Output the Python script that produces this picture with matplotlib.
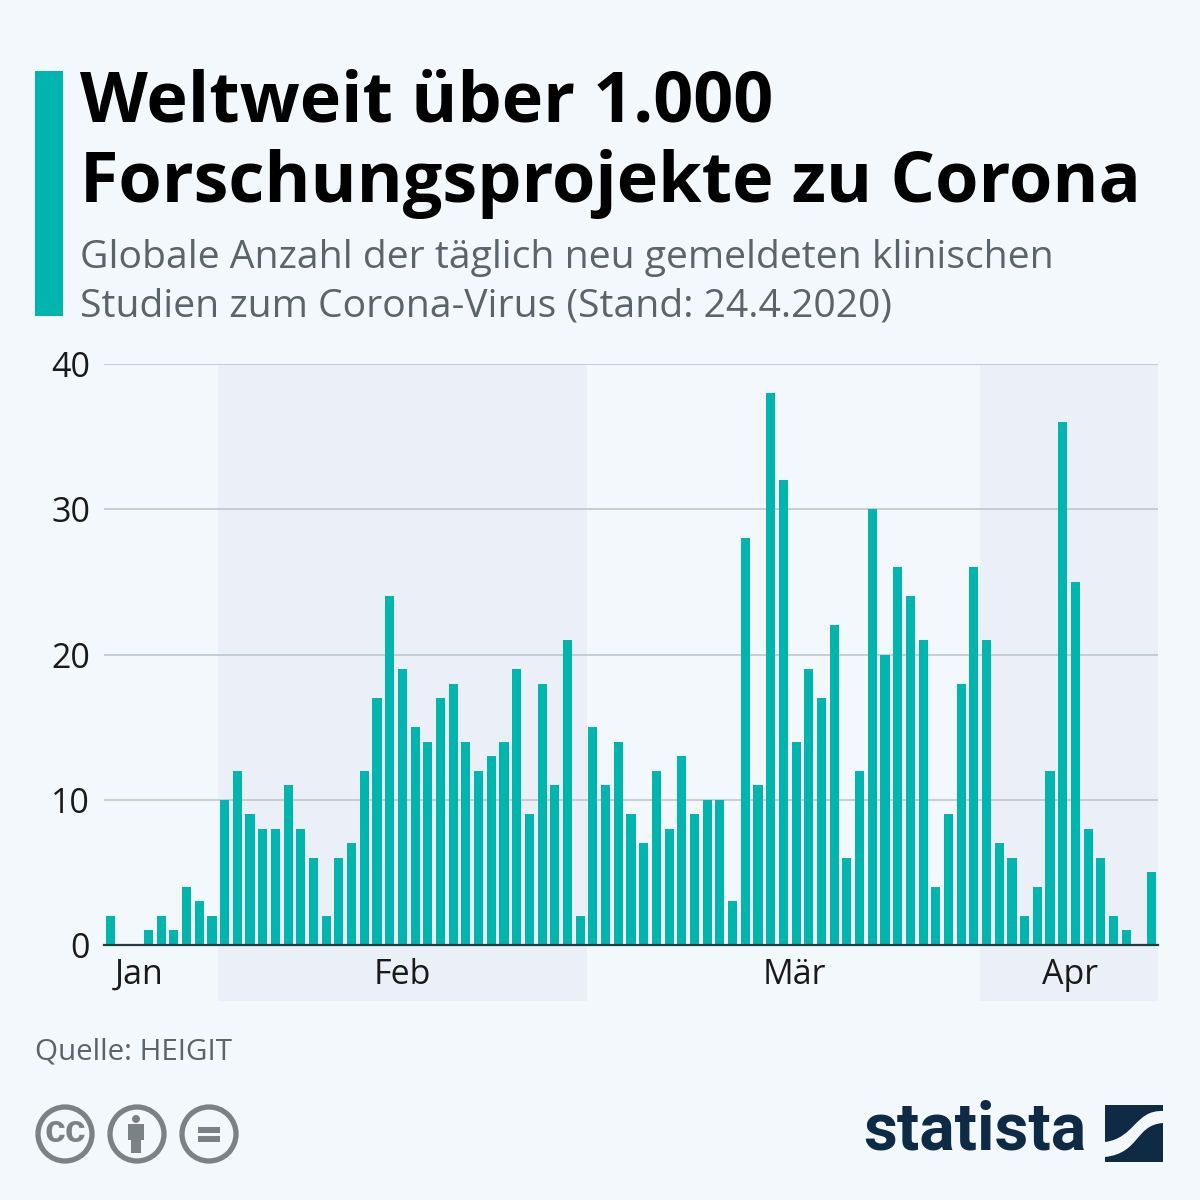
import matplotlib
matplotlib.use('Agg')
import matplotlib.pyplot as plt
from matplotlib.patches import Circle, Rectangle, PathPatch
from matplotlib.path import Path

# daily new clinical studies
values = [2, 0, 0, 1, 2, 1, 4, 3, 2, 10, 12, 9, 8, 8, 11, 8, 6, 2, 6, 7, 12,
          17, 24, 19, 15, 14, 17, 18, 14, 12, 13, 14, 19, 9, 18, 11, 21, 2,
          15, 11, 14, 9, 7, 12, 8, 13, 9, 10, 10, 3, 28, 11, 38, 32, 14, 19,
          17, 22, 6, 12, 30, 20, 26, 24, 21, 4, 9, 18, 26, 21, 7, 6, 2, 4,
          12, 36, 25, 8, 6, 2, 1, 0, 5]
month_labels = ['Jan', 'Feb', 'Mär', 'Apr']
month_ticks = [2.3, 23, 53.9, 75.6]
y_ticks = [0, 10, 20, 30, 40]
bands = [(8.5, 37.5), (68.5, 82.5)]

BG = '#f3f8fd'
TEAL = '#00b5ad'
GREY = '#7a8285'
NAVY = '#0f2a45'
TEXT_GREY = '#5b6468'

plt.rcParams['font.family'] = ['Open Sans', 'DejaVu Sans']

fig = plt.figure(figsize=(12, 12), dpi=100, facecolor=BG)

# overlay in pixel coordinates for title, logo and icons
over = fig.add_axes([0, 0, 1, 1], zorder=5)
over.set_xlim(0, 1200)
over.set_ylim(1200, 0)
over.axis('off')

ax = fig.add_axes([104 / 1200, 255 / 1200, 1054 / 1200, 581 / 1200], zorder=6)
ax.set_facecolor('none')
x = list(range(len(values)))

# month bands run down below the axis
for start, end in bands:
    ax.axvspan(start, end, ymin=-56 / 581, ymax=1, color='#ebf0f8', lw=0, zorder=0, clip_on=False)

ax.bar(x, values, width=0.72, color=TEAL, zorder=3)
ax.set_xlim(-0.5, 82.5)
ax.set_ylim(0, 40)
ax.set_yticks(y_ticks)
ax.set_xticks(month_ticks)
ax.set_xticklabels(month_labels)
ax.tick_params(axis='both', length=0, labelsize=24.5, labelcolor='#1a1a1a')
ax.tick_params(axis='x', pad=9)
ax.tick_params(axis='y', pad=10)
ax.grid(axis='y', color='#b9c3cc', lw=1.1, zorder=1)
ax.set_axisbelow(True)
for name in ['top', 'left', 'right']:
    ax.spines[name].set_visible(False)
ax.spines['bottom'].set_color('#26393d')
ax.spines['bottom'].set_linewidth(1.6)
ax.spines['bottom'].set_zorder(4)

# header
over.add_patch(Rectangle((35, 71), 28, 245, color=TEAL, lw=0))
over.text(80, 103, 'Weltweit über 1.000', fontsize=50.5, fontweight='bold', color='black', va='center')
over.text(80, 184, 'Forschungsprojekte zu Corona', fontsize=50.5, fontweight='bold', color='black', va='center')
over.text(80, 258, 'Globale Anzahl der täglich neu gemeldeten klinischen', fontsize=28.2, color=TEXT_GREY, va='center')
over.text(80, 307, 'Studien zum Corona-Virus (Stand: 24.4.2020)', fontsize=28.2, color=TEXT_GREY, va='center')
over.text(35, 1052, 'Quelle: HEIGIT', fontsize=21.3, color=TEXT_GREY, va='center')

# licence icons
for cx in [65, 137, 209]:
    over.add_patch(Circle((cx, 1134), 27, fc='none', ec=GREY, lw=3.8))
over.text(65, 1132, 'cc', fontsize=27, fontweight='bold', color=GREY, ha='center', va='center', family='Liberation Sans')
over.add_patch(Circle((136, 1119), 4, color=GREY, lw=0))
over.add_patch(Rectangle((128, 1124), 16, 16, color=GREY, lw=0))
over.add_patch(Rectangle((131, 1140), 10, 13, color=GREY, lw=0))
over.add_patch(Rectangle((198, 1127), 22, 5.5, color=GREY, lw=0))
over.add_patch(Rectangle((198, 1136), 22, 5.5, color=GREY, lw=0))

# statista logo
over.text(863, 1131, 'statista', fontsize=47.5, fontweight='bold', color=NAVY, va='center', family='Roboto')
upper = Path([(1105, 1105), (1163, 1105), (1163, 1111), (1135, 1110), (1135, 1138), (1105, 1142),
              (1105, 1105)],
             [Path.MOVETO, Path.LINETO, Path.LINETO, Path.CURVE4, Path.CURVE4, Path.CURVE4,
              Path.CLOSEPOLY])
lower = Path([(1163, 1123), (1163, 1162), (1105, 1162), (1105, 1157), (1140, 1153), (1135, 1125),
              (1163, 1123)],
             [Path.MOVETO, Path.LINETO, Path.LINETO, Path.LINETO, Path.CURVE4, Path.CURVE4,
              Path.CURVE4])
over.add_patch(PathPatch(upper, fc=NAVY, lw=0))
over.add_patch(PathPatch(lower, fc=NAVY, lw=0))

fig.savefig('out.png', dpi=100, facecolor=BG)
plt.close(fig)
